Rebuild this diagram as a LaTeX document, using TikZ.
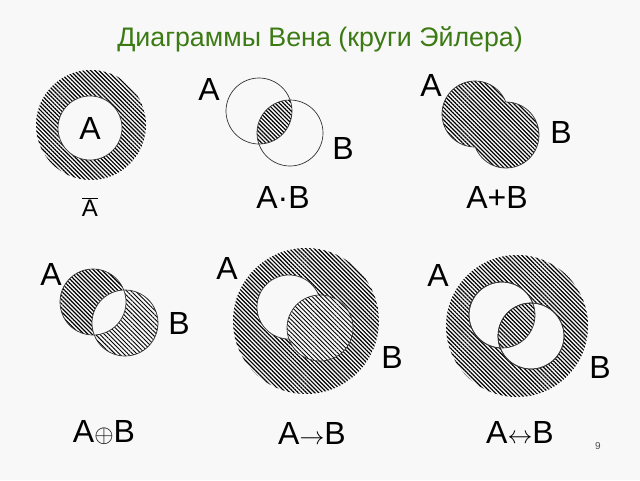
\documentclass[tikz,border=0pt]{standalone}
\usepackage{fontspec}
\setmainfont{Liberation Sans}
\usetikzlibrary{patterns.meta}
\definecolor{bgc}{HTML}{F8F8F8}
\definecolor{titlegreen}{HTML}{3C7A14}
\definecolor{edgec}{HTML}{333333}
\begin{document}
\begin{tikzpicture}[x=1pt,y=-1pt,
  hatch/.style={pattern={Lines[angle=-45,distance=2.9pt,line width=1.2pt]},pattern color=black},
  hatchb/.style={pattern={Lines[angle=-45,distance=3.1pt,line width=0.9pt]},pattern color=black},
  outl/.style={draw=edgec,line width=0.7pt},
  lbl/.style={font=\fontsize{32}{32}\selectfont,inner sep=0pt},
  captxt/.style={font=\fontsize{32}{32}\selectfont,inner sep=0pt}]
\fill[bgc] (0,0) rectangle (640,480);
\useasboundingbox (0,0) rectangle (640,480);
\node[text=titlegreen,font=\fontsize{26.8}{27}\selectfont,anchor=base,inner sep=0pt] (title) at (320,46) {Диаграммы Вена (круги Эйлера)};

% 1: complement
\fill[hatch] (91,125) circle (55);
\filldraw[fill=bgc,outl] (90,128) circle (32);
\node[lbl] (a1) at (90,128) {A};
\node[font=\fontsize{24}{24}\selectfont,inner sep=0pt] (c1) at (90,207) {$\overline{\mbox{A}}$};

% 2: intersection
\begin{scope}
\clip (259,111) circle (33);
\fill[hatch] (290,133) circle (33);
\end{scope}
\draw[outl] (259,111) circle (33);
\draw[outl] (290,133) circle (33);
\node[lbl] (a2) at (209,89) {A};
\node[lbl] (b2) at (343,148) {B};
\node[captxt] (c2) at (283,197) {A·B};

% 3: union
\fill[hatch] (475,114) circle (33) (506,135) circle (33);
\begin{scope}[even odd rule]
\clip (380,60) rectangle (600,200) (506,135) circle (33);
\draw[outl] (475,114) circle (33);
\end{scope}
\begin{scope}[even odd rule]
\clip (380,60) rectangle (600,200) (475,114) circle (33);
\draw[outl] (506,135) circle (33);
\end{scope}
\node[lbl] (a3) at (431,85) {A};
\node[lbl] (b3) at (561,132) {B};
\node[captxt] (c3) at (497,197) {A+B};

% 4: xor
\fill[hatch] (93,302) circle (33);
\fill[hatchb] (125,323) circle (33);
\begin{scope}
\clip (93,302) circle (33);
\fill[bgc] (125,323) circle (33);
\end{scope}
\draw[outl] (93,302) circle (33);
\draw[outl] (125,323) circle (33);
\node[lbl] (a4) at (51,274) {A};
\node[lbl] (b4) at (179,323) {B};
\node[captxt] (c4) at (104,433) {A$\oplus$B};

% 5: implication
\fill[hatch] (306,321) circle (73);
\filldraw[fill=bgc,outl] (289,307) circle (32);
\fill[bgc] (320,328) circle (33);
\filldraw[hatchb,outl] (320,328) circle (33);
\node[lbl] (a5) at (227,268) {A};
\node[lbl] (b5) at (392,357) {B};
\node[captxt] (c5) at (312,433) {A$\rightarrow$B};

% 6: equivalence
\fill[hatch] (517,326) circle (71);
\filldraw[fill=bgc,outl] (502,315) circle (33);
\filldraw[fill=bgc,outl] (531,336) circle (33);
\begin{scope}
\clip (502,315) circle (33);
\fill[hatch] (531,336) circle (33);
\end{scope}
\draw[outl] (502,315) circle (33);
\draw[outl] (531,336) circle (33);
\node[lbl] (a6) at (438,275) {A};
\node[lbl] (b6) at (600,367) {B};
\node[captxt] (c6) at (520,432) {A$\leftrightarrow$B};

\node[font=\fontsize{10}{10}\selectfont,text=black!70] (pg) at (598,446) {9};
\end{tikzpicture}
\end{document}
